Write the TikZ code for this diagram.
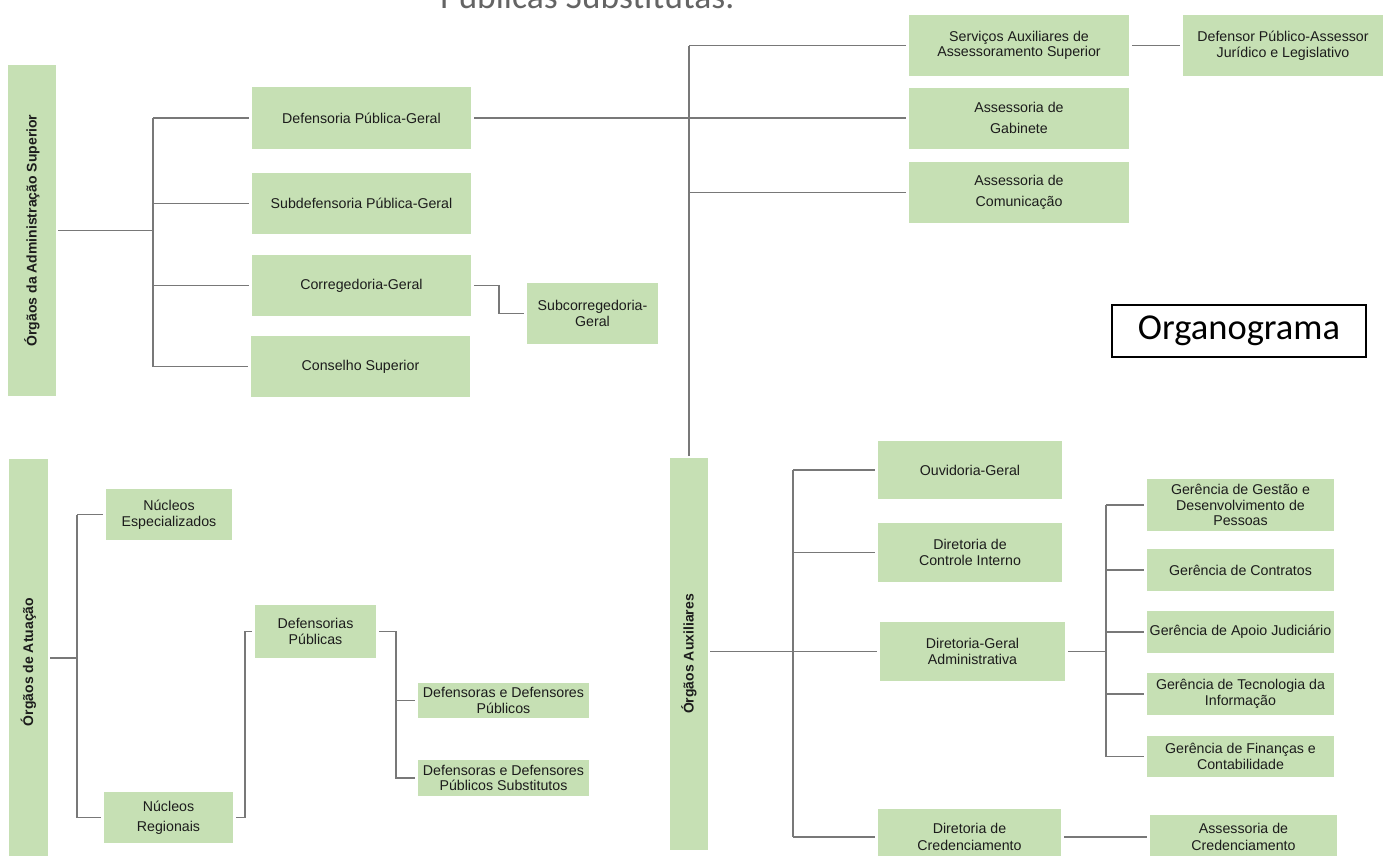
\documentclass[tikz,border=0pt]{standalone}
\usepackage{fontspec}
\setmainfont{Liberation Sans}
\newfontfamily\calibri{Carlito}
\usepackage{graphicx}
\definecolor{boxgreen}{RGB}{198,224,180}
\definecolor{linegray}{RGB}{120,120,120}
\definecolor{txt}{RGB}{28,28,28}
\definecolor{titlegray}{RGB}{100,100,100}
\begin{document}
\begin{tikzpicture}[x=1pt,y=-1pt,
  gbox/.style={fill=boxgreen, draw=none, inner sep=1pt, outer sep=3pt, align=center,
    font=\fontsize{14.2}{15.5}\selectfont, text=txt},
  bar/.style={fill=boxgreen, draw=none, inner sep=0pt, outer sep=2pt,
    font=\bfseries\fontsize{14}{16}\selectfont, text=txt},
  conn/.style={draw=linegray, line width=1.1pt}]
\useasboundingbox (0,0) rectangle (1386,855);
\clip (0,0) rectangle (1386,855);

% title fragment
\node[anchor=base west, inner sep=0pt, text=titlegray,
  font=\calibri\fontsize{35.5}{38}\selectfont] (title) at (440,8) {Públicas Substitutas.};

% ---- Administração Superior
\node[bar, minimum width=48pt, minimum height=331pt] (barA) at (32,230.5)
  {\rotatebox{90}{Órgãos da Administração Superior}};
\node[gbox, minimum width=219pt, minimum height=62pt] (dpg) at (361.5,118) {Defensoria Pública-Geral};
\node[gbox, minimum width=219pt, minimum height=61pt] (sdpg) at (361.5,203.5) {Subdefensoria Pública-Geral};
\node[gbox, minimum width=219pt, minimum height=61pt] (cg) at (361.5,285.5) {Corregedoria-Geral};
\node[gbox, minimum width=219pt, minimum height=61pt] (cs) at (360.5,366.5) {Conselho Superior};
\node[gbox, minimum width=131pt, minimum height=61pt] (scg) at (592.5,313.5) {Subcorregedoria-\\Geral};

\coordinate (jA) at (153,230.5);
\draw[conn] (barA.east) -- (jA);
\draw[conn] (jA |- dpg.west) -- (jA |- cs.west);
\foreach \n in {dpg,sdpg,cg,cs} \draw[conn] (jA |- \n.west) -- (\n.west);
\draw[conn] (cg.east) -- ++(25,0) |- (scg.west);

% ---- Serviços / Assessorias
\node[gbox, minimum width=220pt, minimum height=61pt] (saas) at (1019,45.5) {Serviços Auxiliares de\\Assessoramento Superior};
\node[gbox, minimum width=220pt, minimum height=61pt] (ag) at (1019,118) {Assessoria de\\[5pt]Gabinete};
\node[gbox, minimum width=220pt, minimum height=61pt] (ac) at (1019,192.5) {Assessoria de\\[5pt]Comunicação};
\node[gbox, minimum width=200pt, minimum height=61pt] (dpa) at (1283,45.5) {Defensor Público-Assessor\\Jurídico e Legislativo};

\node[draw=black, line width=1.8pt, minimum width=254pt, minimum height=52pt, inner sep=0pt,
  font=\calibri\fontsize{36.5}{40}\selectfont] (org) at (1239,331) {Organograma};

% ---- Órgãos Auxiliares bar
\node[bar, minimum width=38pt, minimum height=392pt] (barC) at (689,654)
  {\rotatebox{90}{Órgãos Auxiliares}};

\draw[conn] (dpg.east) -- (ag.west);
\draw[conn] (barC.north) -- (barC.north |- saas.west);
\draw[conn] (barC.north |- saas.west) -- (saas.west);
\draw[conn] (barC.north |- ac.west) -- (ac.west);
\draw[conn] (saas.east) -- (dpa.west);

% ---- Órgãos de Atuação
\node[bar, minimum width=39pt, minimum height=406pt] (barB) at (28.5,662)
  {\rotatebox{90}{Órgãos de Atuação}};
\node[gbox, minimum width=126pt, minimum height=51pt] (ne) at (169,514.5) {Núcleos\\Especializados};
\node[gbox, minimum width=129pt, minimum height=51pt] (nr) at (168.5,817.5) {Núcleos\\[5pt]Regionais};
\node[gbox, minimum width=121pt, minimum height=53pt] (dp) at (315.5,631.5) {Defensorias\\Públicas};
\node[gbox, minimum width=171pt, minimum height=35pt] (ddp) at (503.5,700.5) {Defensoras e Defensores\\Públicos};
\node[gbox, minimum width=171pt, minimum height=36pt] (ddps) at (503.5,778) {Defensoras e Defensores\\Públicos Substitutos};

\coordinate (jB) at (77,658);
\draw[conn] (barB.east |- jB) -- (jB);
\draw[conn] (jB |- ne.west) -- (jB |- nr.west);
\draw[conn] (jB |- ne.west) -- (ne.west);
\draw[conn] (jB |- nr.west) -- (nr.west);
\draw[conn] (nr.east) -- ++(9,0) |- (dp.west);
\draw[conn] (dp.east) -- ++(17,0) coordinate (jD) |- (ddps.west);
\draw[conn] (jD |- ddp.west) -- (ddp.west);

% ---- Auxiliares children
\node[gbox, minimum width=184pt, minimum height=58pt] (og) at (970,470) {Ouvidoria-Geral};
\node[gbox, minimum width=184pt, minimum height=59pt] (dci) at (970,552.5) {Diretoria de\\Controle Interno};
\node[gbox, minimum width=185pt, minimum height=59pt] (dga) at (972.5,651.5) {Diretoria-Geral\\Administrativa};
\node[gbox, minimum width=183pt, minimum height=56pt] (dc) at (969.5,837) {Diretoria de\\[2pt]Credenciamento};
\node[gbox, minimum width=187pt, minimum height=44pt] (acr) at (1243.5,837) {Assessoria de\\[2pt]Credenciamento};

\node[gbox, minimum width=187pt, minimum height=52pt] (ggdp) at (1240.5,505) {Gerência de Gestão e\\Desenvolvimento de\\Pessoas};
\node[gbox, minimum width=187pt, minimum height=42pt] (gcon) at (1240.5,570) {Gerência de Contratos};
\node[gbox, minimum width=187pt, minimum height=42pt, inner sep=0pt] (gaj) at (1240.5,632) {Gerência de Apoio Judiciário};
\node[gbox, minimum width=187pt, minimum height=42pt] (gti) at (1240.5,694) {Gerência de Tecnologia da\\Informação};
\node[gbox, minimum width=187pt, minimum height=41pt] (gfc) at (1240.5,756.5) {Gerência de Finanças e\\Contabilidade};

\coordinate (jC) at (793,651.5);
\draw[conn] (barC.east |- jC) -- (jC);
\draw[conn] (jC |- og.west) -- (jC |- dc.west);
\foreach \n in {og,dci,dga,dc} \draw[conn] (jC |- \n.west) -- (\n.west);

\draw[conn] (dga.east) -- ++(38,0) coordinate (jG);
\draw[conn] (jG |- ggdp.west) -- (jG |- gfc.west);
\foreach \n in {ggdp,gcon,gaj,gti,gfc} \draw[conn] (jG |- \n.west) -- (\n.west);
\draw[conn] (dc.east) -- (acr.west);
\end{tikzpicture}
\end{document}
